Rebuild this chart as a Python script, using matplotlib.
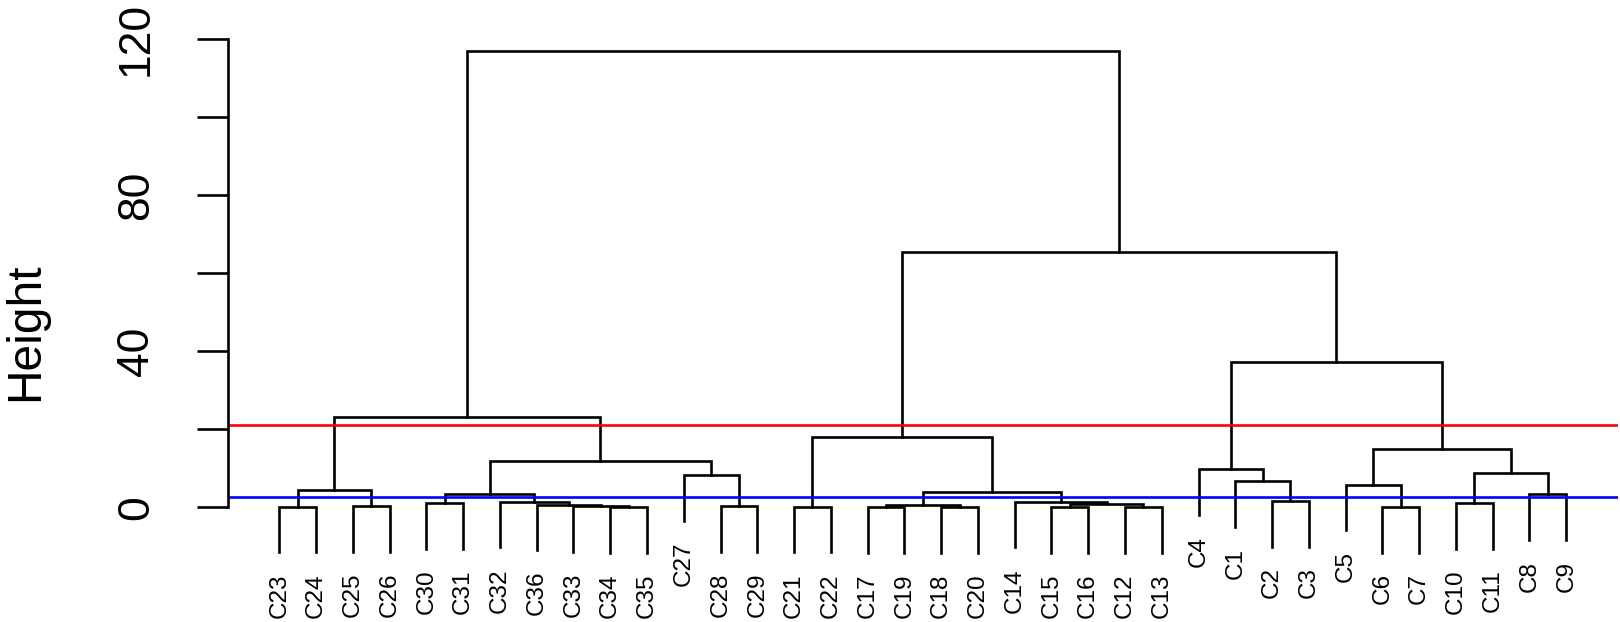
# Dendrogram of 36 clusters (hclust style) with two cut lines
import matplotlib.pyplot as plt

plt.rcParams['font.family'] = ['Liberation Sans', 'DejaVu Sans']

# leaf order along the x axis
leaf_order = ["C23", "C24", "C25", "C26", "C30", "C31", "C32", "C36", "C33", "C34",
              "C35", "C27", "C28", "C29", "C21", "C22", "C17", "C19", "C18", "C20",
              "C14", "C15", "C16", "C12", "C13", "C4", "C1", "C2", "C3", "C5",
              "C6", "C7", "C10", "C11", "C8", "C9"]

# merges: left child, right child, height (ints point to an earlier merge row)
merge_left = ["C34", "C33", "C36", "C32", "C30", 4, "C28", "C27", 5, "C23",
              "C25", 9, 11, "C21", "C17", "C18", 14, "C15", "C12", 17,
              "C14", 16, 13, "C2", "C1", "C4", "C6", "C5", "C10", "C8",
              28, 27, 25, 22, 12]
merge_right = ["C35", 0, 1, 2, "C31", 3, "C29", 6, 7, "C24",
               "C26", 10, 8, "C22", "C19", "C20", 15, "C16", "C13", 18,
               19, 20, 21, "C3", 23, 24, "C7", 26, "C11", "C9",
               29, 30, 31, 32, 33]
merge_height = [0.05, 0.3, 0.7, 1.4, 1.0, 3.3, 0.3, 8.2, 11.9, 0.15,
                0.2, 4.4, 23.2, 0.15, 0.05, 0.05, 0.5, 0.05, 0.05, 0.85,
                1.45, 4.0, 17.9, 1.6, 6.7, 9.7, 0.1, 5.8, 1.1, 3.3,
                8.7, 14.9, 37.1, 65.3, 117.0]

cut_high = 21.1
cut_low = 2.7

yticks = [0, 20, 40, 60, 80, 100, 120]
ytick_labels = ["0", "", "40", "", "80", "", "120"]

hang = 0.1 * max(merge_height)

fig = plt.figure(figsize=(16.2, 6.22), dpi=100)
ax = fig.add_axes([0.1406, 0.0904, 0.858, 0.8594])

leaf_x = {name: i + 1 for i, name in enumerate(leaf_order)}
node_x = []
lw = 1.9

def child_info(c, h):
    # returns x position and the lower end of the vertical branch
    if isinstance(c, str):
        return leaf_x[c], h - hang, True
    return node_x[c], merge_height[c], False

for a, b, h in zip(merge_left, merge_right, merge_height):
    xa, ya, la = child_info(a, h)
    xb, yb, lb = child_info(b, h)
    ax.plot([xa, xa, xb, xb], [ya, h, h, yb], color='black', lw=lw,
            solid_joinstyle='miter', clip_on=False)
    node_x.append((xa + xb) / 2)
    for c, x, y, leaf in ((a, xa, ya, la), (b, xb, yb, lb)):
        if leaf:
            ax.annotate(c, (x, y), xytext=(0, -15), textcoords='offset points',
                        rotation=90, ha='center', va='top', fontsize=17.5)

ax.axhline(cut_high, color='red', lw=lw)
ax.axhline(cut_low, color='blue', lw=lw)

ax.set_xlim(-0.4, 37.4)
ax.set_ylim(-15, 122)
for s in ['top', 'right', 'bottom']:
    ax.spines[s].set_visible(False)
ax.spines['left'].set_bounds(0, 120)
ax.spines['left'].set_linewidth(lw)
ax.set_xticks([])
ax.set_yticks(yticks, labels=ytick_labels)
ax.tick_params(axis='y', length=22, width=lw, pad=29, labelsize=32)
for t in ax.get_yticklabels():
    t.set_rotation(90)
    t.set_va('center')

fig.text(26 / 1620, 1 - 331.7 / 622, "Height", rotation=90,
         ha='center', va='center', fontsize=34.5)

fig.savefig('out.png', dpi=100)
